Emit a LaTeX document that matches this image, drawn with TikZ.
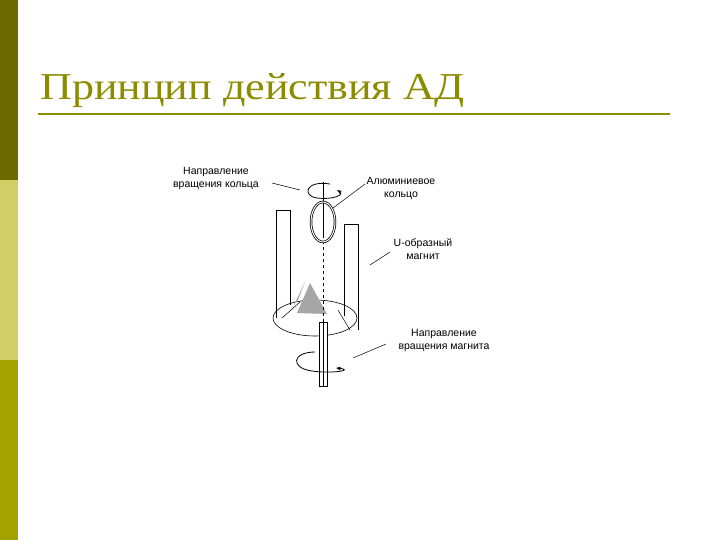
\documentclass[tikz,border=0pt]{standalone}
\usepackage{fontspec}
\setmainfont{Liberation Serif}
\newfontfamily\arial{Liberation Sans}
\usetikzlibrary{arrows.meta}
\definecolor{oliveD}{HTML}{6B6B00}
\definecolor{oliveL}{HTML}{CFCF66}
\definecolor{oliveM}{HTML}{A3A300}
\definecolor{titleC}{HTML}{8C8C00}
\begin{document}
\begin{tikzpicture}[x=1pt,y=-1pt,
  lbl/.style={font=\arial\fontsize{10.5}{13}\selectfont,align=center,inner sep=0},
  lead/.style={draw,line width=0.5pt},
  arrowc/.style={line width=0.8pt,-{Stealth[length=5pt]}}]
\useasboundingbox (0,0) rectangle (720,540);
\fill[oliveD] (0,0) rectangle (18,180);
\fill[oliveL] (0,180) rectangle (18,360);
\fill[oliveM] (0,360) rectangle (18,540);
\node[anchor=base west,inner sep=0,text=titleC,font=\fontsize{38}{40}\selectfont,xscale=1.16] (title) at (40,100) {Принцип действия АД};
\draw[titleC,line width=1.5pt] (38,114) -- (670,114);
% magnet
\draw[line width=0.6pt] (276,318) -- (276,210) -- (290,210) -- (290,305);
\draw[line width=0.6pt] (358,330) -- (358,224) -- (344,224) -- (344,316);
\draw[line width=0.6pt] (315,318) ellipse (42 and 18);
\draw[line width=0.5pt] (282,318) -- (300,302);
\draw[line width=0.5pt] (350,330) -- (338,310);
\fill[gray!70] (297,313) -- (327,314) -- (310,283) -- cycle;
\fill[gray!70] (294,305) -- (305,282) -- (298,300) -- cycle;
% axis
\draw[dashed,line width=0.5pt] (323,235) -- (323,322);
\draw[line width=1pt] (323,182) -- (323,238);
% ring
\draw[line width=2.5pt] (323,222) ellipse (12 and 20);
\draw[white,line width=1pt] (323,222) ellipse (12 and 20);
% top rotation
\draw[arrowc] (330,184) .. controls (305,180) and (302,196) .. (317,198) .. controls (332,200) and (345,195) .. (337,190);
% shaft
\draw[line width=0.6pt,fill=white] (319,322) rectangle (327,386);
\draw[line width=0.5pt] (323,322) -- (323,386);
% bottom rotation
\draw[arrowc] (315,352) .. controls (292,352) and (290,368) .. (312,371) .. controls (332,374) and (355,370) .. (336,368);
% labels
\node[lbl] (l1) at (216,178) {Направление\\вращения кольца};
\node[lbl] (l2) at (401,188) {Алюминиевое\\кольцо};
\node[lbl] (l3) at (423,249) {U-образный\\магнит};
\node[lbl] (l4) at (444,340) {Направление\\вращения магнита};
\coordinate (c1) at (300,190); \coordinate (c2) at (333,208);
\coordinate (c3) at (370,265); \coordinate (c4) at (353,358);
\draw[lead] (272,183) -- (c1);
\draw[lead] (365,184) -- (c2);
\draw[lead] (390,252) -- (c3);
\draw[lead] (386,344) -- (c4);
\end{tikzpicture}
\end{document}
